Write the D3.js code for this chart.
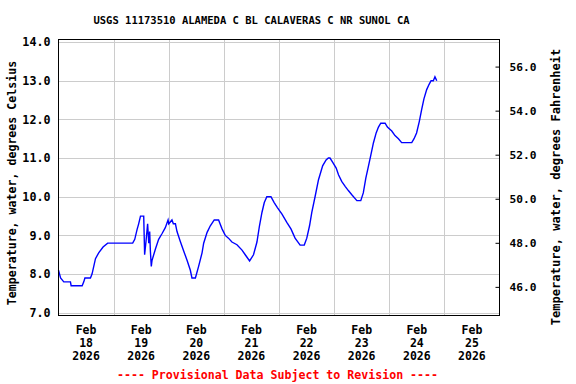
<!DOCTYPE html>
<html>
<head>
<meta charset="utf-8">
<script src="https://cdn.jsdelivr.net/npm/d3@7"></script>
<style>
    body { margin: 0; background: #fff; }
    text { font-family: "DejaVu Sans Mono", monospace; font-weight: bold; }
</style>
</head>
<body>
<div id="chart"></div>
<script>
// Site + labels
const siteTitle = "USGS 11173510 ALAMEDA C BL CALAVERAS C NR SUNOL CA";
const leftTitle = "Temperature, water, degrees Celsius";
const rightTitle = "Temperature, water, degrees Fahrenheit";
const footNote = "---- Provisional Data Subject to Revision ----";

// x axis days (labels drawn at noon)
const dayLabels = ["18", "19", "20", "21", "22", "23", "24", "25"];
const celsiusTicks = [7, 8, 9, 10, 11, 12, 13, 14];
const fahrenheitTicks = [46, 48, 50, 52, 54, 56];

// hours since Feb 18 2026 00:00
const hours = [0, 0.9, 2.3, 5.2, 5.5, 10.3, 11, 11.5, 13.9, 14.6, 16.1, 17.5, 19.4, 21.4,
    32.3, 33.2, 34.2, 34.9, 35.7, 37.1, 37.3, 37.5, 38.1, 38.8, 39.3, 39.7, 40.0, 40.4, 40.7,
    42.2, 43.6, 45.1, 46.5, 47.7, 48.0, 49.4, 50.0, 50.9, 51.6, 53, 54.5, 56, 57.4, 58.1,
    59.6, 61, 62.5, 63.2, 64.7, 66.1, 67.8, 69.7, 71.2, 72.6, 74, 75.5, 77.7, 79.9, 81.3,
    83.2, 84.9, 86.4, 87.5, 88.6, 89.6, 90.7, 92.5, 93.9, 95.3, 97.3, 99.4, 101.2, 103,
    105.2, 107, 108.1, 109.3, 110.3, 111.7, 113.2, 115, 116.5, 117.5, 118.2, 119.4, 120.9,
    121.9, 123.3, 124.8, 126.2, 127.7, 129.9, 131.6, 132.7, 133.8, 134.9, 136, 137.1, 138.3,
    139.3, 140.3, 142.2, 143.2, 145.1, 146.5, 148, 149.4, 153.8, 154.8, 155.9, 157.1, 158.1,
    159.1, 160.3, 161.3, 162.2, 163.2, 163.9, 164.7];
const tempC = [8.1, 7.9, 7.8, 7.8, 7.7, 7.7, 7.8, 7.9, 7.9, 8.0, 8.4, 8.55, 8.7, 8.8,
    8.8, 8.9, 9.15, 9.3, 9.5, 9.5, 9.0, 8.5, 8.85, 9.3, 8.8, 9.1, 8.6, 8.2, 8.35,
    8.65, 8.9, 9.05, 9.2, 9.4, 9.3, 9.4, 9.3, 9.3, 9.1, 8.85, 8.6, 8.35, 8.1, 7.9,
    7.9, 8.2, 8.55, 8.8, 9.08, 9.25, 9.4, 9.4, 9.17, 9.0, 8.93, 8.83, 8.76, 8.62, 8.5,
    8.34, 8.5, 8.83, 9.25, 9.6, 9.85, 10.0, 10.0, 9.85, 9.72, 9.55, 9.34, 9.17, 8.93,
    8.75, 8.75, 8.93, 9.25, 9.6, 10.0, 10.44, 10.8, 10.95, 11.0, 11.0, 10.89, 10.74,
    10.57, 10.4, 10.27, 10.16, 10.05, 9.9, 9.9, 10.1, 10.48, 10.78, 11.08, 11.39, 11.65,
    11.8, 11.9, 11.9, 11.8, 11.7, 11.58, 11.5, 11.4, 11.4, 11.5, 11.65, 11.95, 12.25,
    12.53, 12.77, 12.9, 13.0, 13.0, 13.1, 13.0];

const W = 576, H = 384;
const plot = { left: 58.5, right: 499.5, top: 39.5, bottom: 315.5 };
const start = new Date(2026, 1, 18);

let svg = d3.select("#chart").append("svg")
    .attr("width", W)
    .attr("height", H);

let x = d3.scaleTime()
    .domain([start, d3.timeDay.offset(start, 8)])
    .range([plot.left, plot.right]);
let y = d3.scaleLinear()
    .domain([6.93, 14.065])
    .range([plot.bottom, plot.top]);
// right axis spacing as drawn in the original
let yF = d3.scaleLinear()
    .domain([44.70, 57.23])
    .range([plot.bottom, plot.top]);

//Grid lines
svg.append("g")
    .selectAll("line")
    .data(celsiusTicks)
    .enter().append("line")
    .attr("x1", plot.left).attr("x2", plot.right)
    .attr("y1", d => Math.round(y(d)) + 0.5)
    .attr("y2", d => Math.round(y(d)) + 0.5)
    .attr("stroke", "#cccccc");
svg.append("g")
    .selectAll("line")
    .data(d3.range(1, 8))
    .enter().append("line")
    .attr("x1", d => Math.round(x(d3.timeDay.offset(start, d))) + 0.5)
    .attr("x2", d => Math.round(x(d3.timeDay.offset(start, d))) + 0.5)
    .attr("y1", plot.top).attr("y2", plot.bottom)
    .attr("stroke", "#cccccc");

//Left axis labels
let yAxis = d3.axisLeft(y)
    .tickValues(celsiusTicks)
    .tickSize(0)
    .tickPadding(8)
    .tickFormat(d3.format(".1f"));
let gL = svg.append("g")
    .attr("transform", "translate(" + plot.left + ",0)")
    .call(yAxis);
gL.select(".domain").remove();
gL.selectAll("text")
    .style("font-size", "11.7px")
    .style("font-family", "DejaVu Sans Mono")
    .style("font-weight", "bold")
    .attr("fill", "#000");

//Right axis, inward ticks
let yAxisF = d3.axisRight(yF)
    .tickValues(fahrenheitTicks)
    .tickSizeInner(-4)
    .tickSizeOuter(0)
    .tickPadding(10)
    .tickFormat(d3.format(".1f"));
let gR = svg.append("g")
    .attr("transform", "translate(" + plot.right + ",0)")
    .call(yAxisF);
gR.select(".domain").remove();
gR.selectAll("line").attr("stroke", "#000");
gR.selectAll("text")
    .style("font-size", "11.2px")
    .style("font-family", "DejaVu Sans Mono")
    .style("font-weight", "bold")
    .attr("fill", "#000");

//Date labels
let xl = svg.append("g")
    .selectAll("text")
    .data(dayLabels)
    .enter().append("text")
    .attr("text-anchor", "middle")
    .attr("x", (d, i) => x(d3.timeHour.offset(start, i * 24 + 12)))
    .attr("y", 334)
    .style("font-size", "11.5px");
xl.append("tspan").text("Feb");
xl.append("tspan")
    .attr("x", (d, i) => x(d3.timeHour.offset(start, i * 24 + 12)))
    .attr("dy", 13).text(d => d);
xl.append("tspan")
    .attr("x", (d, i) => x(d3.timeHour.offset(start, i * 24 + 12)))
    .attr("dy", 12.5).text("2026");

//Data line
let series = hours.map((h, i) => ({ t: new Date(start.getTime() + h * 3600000), v: tempC[i] }));
svg.append("path")
    .datum(series)
    .attr("fill", "none")
    .attr("stroke", "#0000ff")
    .attr("stroke-width", 1.4)
    .attr("d", d3.line().x(d => x(d.t)).y(d => y(d.v)));

//Frame
svg.append("rect")
    .attr("x", plot.left).attr("y", plot.top)
    .attr("width", plot.right - plot.left)
    .attr("height", plot.bottom - plot.top)
    .attr("fill", "none")
    .attr("stroke", "#000");

//Titles
svg.append("text")
    .attr("x", 251.5).attr("y", 24)
    .attr("text-anchor", "middle")
    .style("font-size", "10.5px")
    .text(siteTitle);
svg.append("text")
    .attr("transform", "translate(16,183)rotate(-90)")
    .attr("text-anchor", "middle")
    .style("font-size", "11.6px")
    .text(leftTitle);
svg.append("text")
    .attr("transform", "translate(560,187)rotate(-90)")
    .attr("text-anchor", "middle")
    .style("font-size", "12.1px")
    .text(rightTitle);
svg.append("text")
    .attr("x", 277.5).attr("y", 379)
    .attr("text-anchor", "middle")
    .attr("fill", "#ff0000")
    .style("font-size", "11.6px")
    .text(footNote);
</script>
</body>
</html>
